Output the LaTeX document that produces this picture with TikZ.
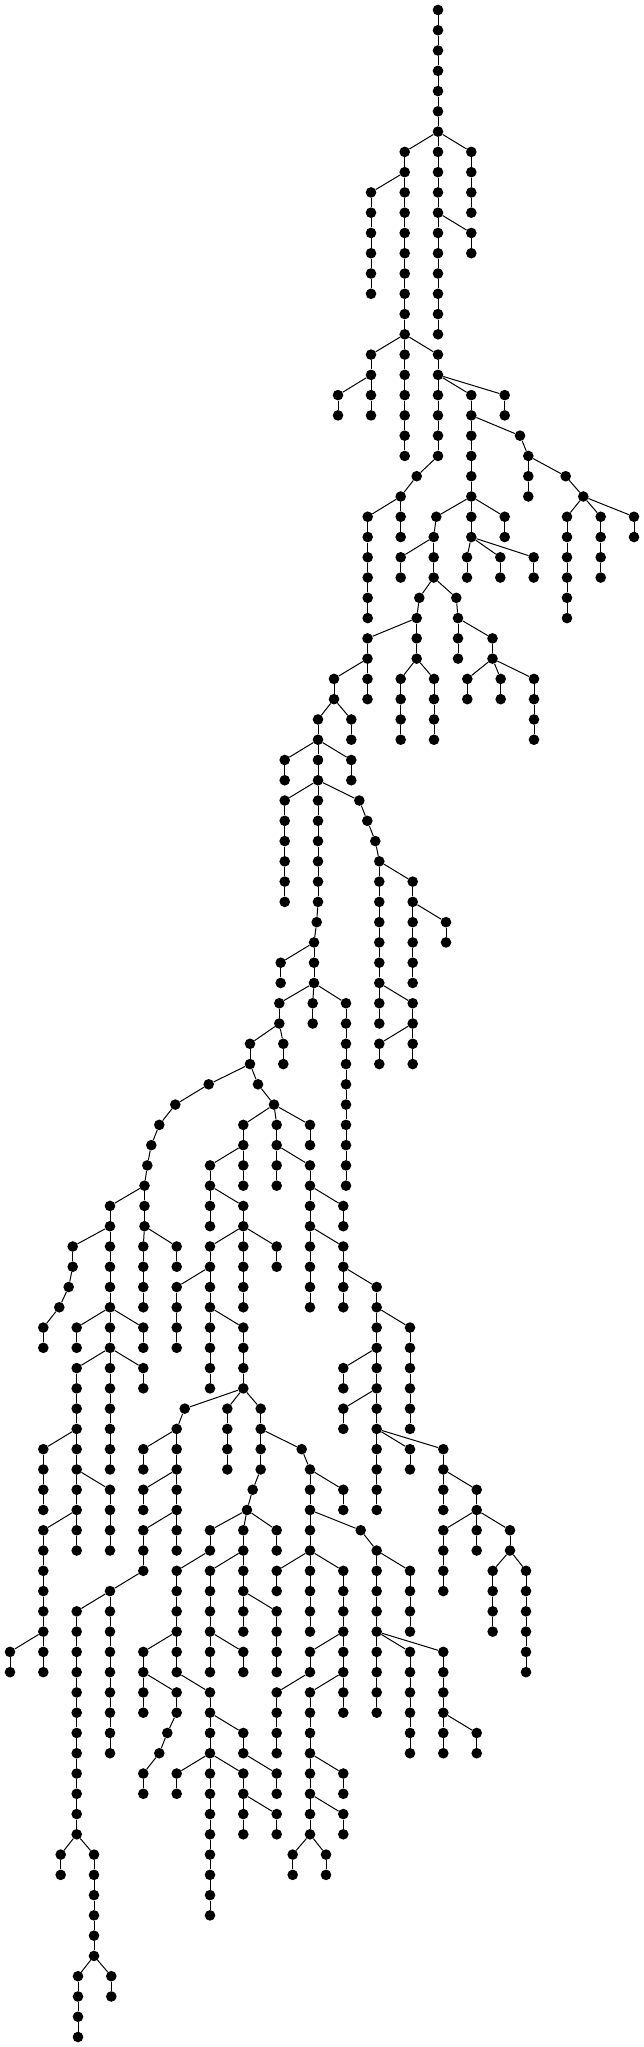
\documentclass[tikz,border=0pt]{standalone}
\usepackage{tikz}

\tikzset{
  treenode/.style={circle, fill=black, draw=none, inner sep=0pt, minimum size=10.6pt},
  treeline/.style={draw=black, line width=1pt},
}

\begin{document}
\begin{tikzpicture}[x=1pt,y=1pt,yscale=-1,xscale=1]
\useasboundingbox (0,0) rectangle (644,2047);

% Root node
\node[treenode] (top) at (438,10) {};

% Chains: name / parent / x / first level / number of nodes
\foreach \nm/\pa/\xx/\lv/\cnt in {
r/top/438/1/6, a/r-6/404.7/7/10, b/r-6/438/7/10, c/r-6/471.3/7/4,
d/b-4/471.3/11/2, e/a-2/371/9/6,
f/a-10/371/17/2, g/a-10/404.7/17/6, h/a-10/438/17/2,
f1/f-2/338/19/2, f2/f-2/371/19/2,
i/h-2/438/19/4, j/h-2/471.3/19/6, k/h-2/504.7/19/2,
i1/i-4/416.7/23/1, i2/i1-1/400.7/24/1, i3/i2-1/367.7/25/6, i4/i2-1/400.7/25/2,
m/j-2/520/21/1, m1/m-1/528.3/22/3, m2/m1-1/565.7/23/1, m3/m2-1/583.3/24/1,
m4/m3-1/567/25/6, m5/m3-1/600.7/25/4, m6/m3-1/634/25/2,
n/j-6/436.3/25/1, o/j-6/471.3/25/2, p/j-6/504.7/25/2,
o1/o-2/467/27/2, o2/o-2/500.3/27/2, o3/o-2/533.7/27/2,
q/n-1/433.7/26/3, q1/q-1/400.7/27/2,
s/q-3/419.3/29/1, t/q-3/456.3/29/1,
s1/s-1/416.7/30/3, s2/s1-1/367.5/31/2, t1/t-1/458/30/3, t2/t1-1/492.5/31/2,
t3/t2-2/467.3/33/2, t4/t2-2/500.7/33/2, t5/t2-2/534/33/4,
s3/s1-3/400.7/33/4, s4/s1-3/434/33/4,
u/s2-2/334/33/2, s5/s2-2/367.5/33/2,
v/u-2/318/35/2, u1/u-2/351.3/35/2,
v1/v-2/284.7/37/2, w/v-2/318/37/2, v2/v-2/351.3/37/2,
w1/w-2/284.7/39/6, x/w-2/318/39/6, y/w-2/359.3/39/1,
y1/y-1/367.3/40/1, y2/y1-1/375.3/41/1, y3/y2-1/379.3/42/7,
y4/y3-1/412.7/43/6, y5/y4-2/446/45/2,
y6/y3-7/379.3/49/2, y7/y3-7/412.7/49/4, y8/y7-2/379.3/51/2,
z/x-6/316.7/45/1, z1/z-1/314/46/3, z2/z1-1/280.7/47/2,
A/z1-3/279.3/49/2, A1/z1-3/312.7/49/2, A2/z1-3/346/49/10,
B/A-2/250/51/2, A3/A-2/283.3/51/2,
C/B-2/208.7/53/1, C1/C-1/175.3/54/1, C2/C1-1/159.3/55/1, C3/C2-1/151.3/56/1,
C4/C3-1/147.3/57/1, C5/C4-1/144.5/58/3,
D/C5-1/110/59/2, C6/C5-3/143.3/61/4, C7/C5-3/176.7/61/2,
E/D-2/72.7/61/2, E1/E-2/68.7/63/1, E2/E1-1/59.3/64/1, E3/E2-1/43.3/65/2,
F/D-2/110/61/4, F1/F-4/76.7/65/2, G/F-4/110/65/2, F2/F-4/143.3/65/2,
H/G-2/76.7/67/10, G1/G-2/110/67/6, G2/G-2/143.3/67/2,
H1/H-4/43.3/71/4, H2/H-6/110/73/4, I/H-8/43.3/75/6,
I1/I-6/10/81/2, I2/I-6/43.3/81/2,
J/B-2/258/53/1, J1/J-1/274/54/1,
K/J1-1/243.3/55/2, L/J1-1/276.7/55/2, J2/J1-1/310/55/2,
M/K-2/210/57/2, K1/K-2/243.3/57/2,
M1/M-2/210/59/2, N/M-2/243.3/59/2,
O/N-2/210/61/2, N1/N-2/243.3/61/4, N2/N-2/276.7/61/2,
O1/O-2/176.7/63/4, P/O-2/210/63/2,
P1/P-2/210/65/4, Q/P-2/243.3/65/4,
R/Q-4/184.7/69/1, Q1/Q-4/227.3/69/4, S/Q-4/260.7/69/2,
T/R-1/176.7/70/7, T1/T-1/143.3/71/2, T2/T-3/143.3/73/2, T3/T-5/143.3/75/3,
T4/T3-3/110/78/9, U/T4-1/76.7/79/12,
U1/U-12/60.7/91/2, V/U-12/94/91/6, V1/V-6/78/97/4, V2/V-6/111.3/97/2,
W/S-2/260.7/71/2, W1/W-2/252.7/73/1, W2/W1-1/247/74/1,
X/W2-1/210/75/2, Y/W2-1/243.3/75/4, W3/W2-1/276.7/75/2,
X1/X-2/176.7/77/4, Y1/Y-2/210/77/4, Y2/Y-4/243.3/79/2, Y3/Y-4/276.7/79/4,
Z/X1-4/143.3/81/2, Z1/X1-4/176.7/81/2,
Z2/Z-2/143.3/83/2, Z3/Z-2/176.7/83/2,
Z4/Z3-2/167.3/85/1, Z5/Z4-1/159.3/86/1, Z6/Z5-1/143.3/87/2,
AA/Z1-2/210/83/12, AB/AA-2/243.3/85/2, AB1/AB-2/276.7/87/2,
AC/AA-4/176.7/87/2, AD/AA-4/243.3/87/2,
AD1/AD-2/243.3/89/2, AD2/AD-2/276.7/89/2,
Y4/Y1-4/210/81/2, Y5/Y1-4/243.3/81/2,
BA/S-2/301.7/71/1, BB/BA-1/310/72/9, BB1/BB-1/343.3/73/2,
BC/BB-3/360.7/75/1, BC1/BC-1/376.7/76/9, BC2/BC1-1/410/77/4,
BC3/BC1-5/410/81/6, BC4/BC1-5/443.3/81/6, BC5/BC4-4/476.7/85/2,
BD/BB-5/276.7/77/2, BE/BB-5/343.3/77/8,
BE1/BE-4/310/81/2, BE2/BE1-2/276.7/83/4,
BF/BE-6/310/83/8, BF1/BF-4/343.3/87/2, BF2/BF-6/343.3/89/2,
BF3/BF-8/292.7/91/2, BF4/BF-8/326/91/2,
L1/L-2/276.7/57/2, CA/L-2/310/57/2,
CB/CA-2/310/59/2, CA1/CA-2/343.3/59/2,
CB1/CB-2/310/61/4, CC/CB-2/343.3/61/4,
CD/CC-2/376.7/63/12, CD1/CD-2/410/65/6,
CD2/CD-4/343.3/67/2, CD3/CD-6/343.3/69/2,
CD4/CD-8/410/71/2, CE/CD-8/443.3/71/2,
CE1/CE-2/443.3/73/2, CF/CE-2/476.7/73/2,
CF1/CF-2/443.3/75/4, CF2/CF-2/476.7/75/2, CG/CF-2/510/75/2,
CG1/CG-2/492.7/77/4, CG2/CG-2/526/77/6}
{
  \foreach \ii in {1,...,\cnt}{
    \pgfmathsetmacro\yy{10+20.27*(\lv+\ii-1)}
    \node[treenode] (\nm-\ii) at (\xx,\yy) {};
    \ifnum\ii=1
      \draw[treeline] (\pa) -- (\nm-1);
    \else
      \pgfmathtruncatemacro\jj{\ii-1}
      \draw[treeline] (\nm-\jj) -- (\nm-\ii);
    \fi
  }
}

\end{tikzpicture}
\end{document}
